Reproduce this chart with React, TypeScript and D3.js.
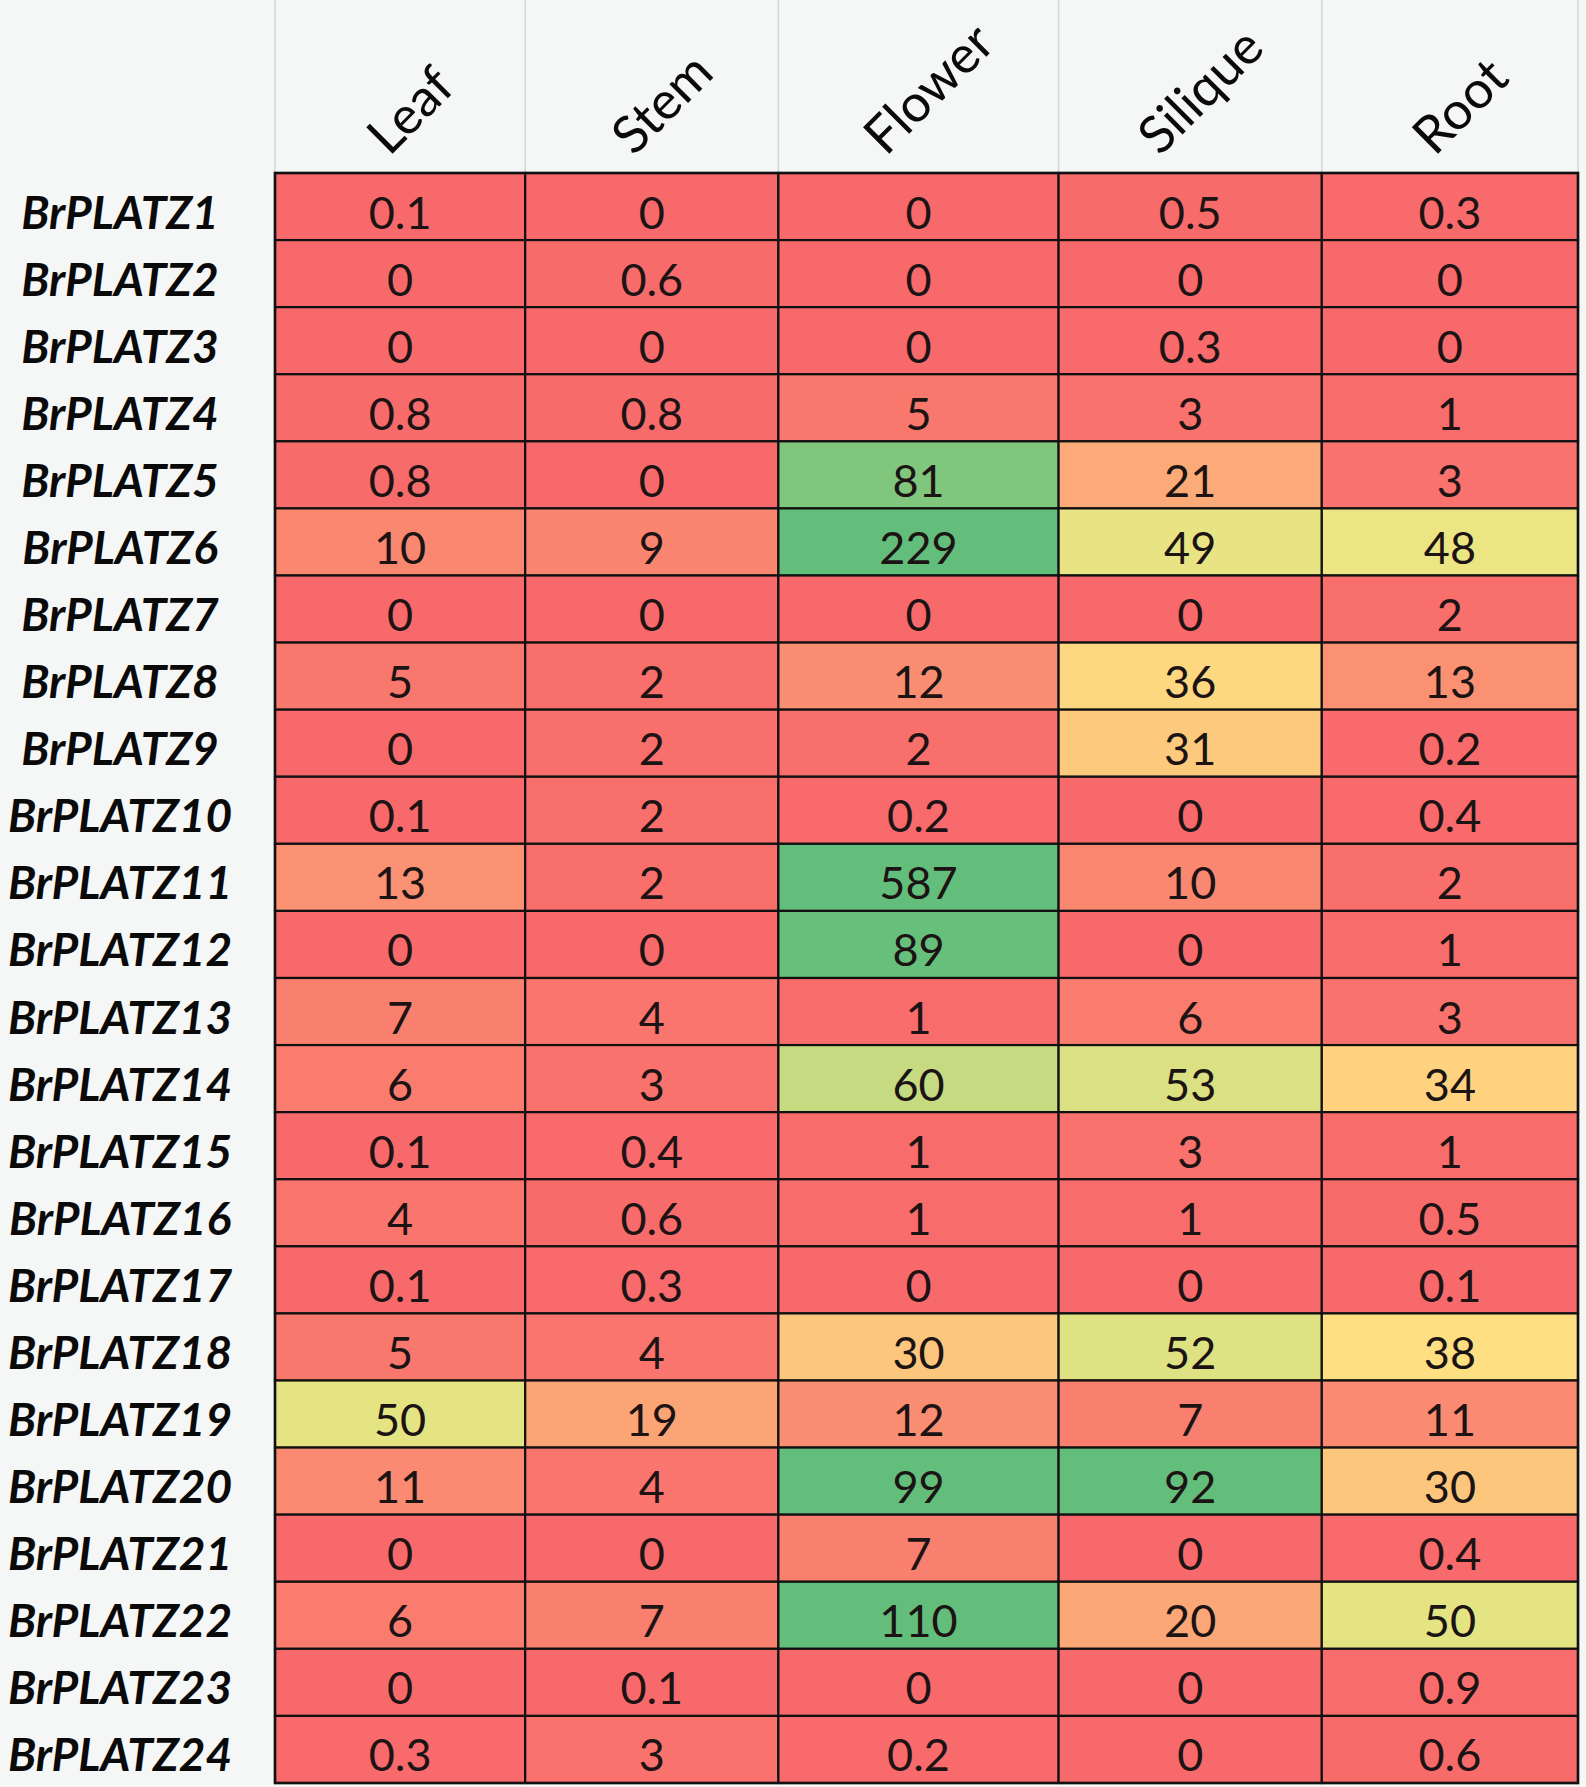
import React, { useEffect, useRef } from 'react';
import * as d3 from 'd3';

// tissues (columns) and genes (rows)
const tissues = ['Leaf', 'Stem', 'Flower', 'Silique', 'Root'];
const genes = Array.from({ length: 24 }, (_, i) => `BrPLATZ${i + 1}`);

// expression values, one array per tissue, in gene order
const leaf = [0.1, 0, 0, 0.8, 0.8, 10, 0, 5, 0, 0.1, 13, 0, 7, 6, 0.1, 4, 0.1, 5, 50, 11, 0, 6, 0, 0.3];
const stem = [0, 0.6, 0, 0.8, 0, 9, 0, 2, 2, 2, 2, 0, 4, 3, 0.4, 0.6, 0.3, 4, 19, 4, 0, 7, 0.1, 3];
const flower = [0, 0, 0, 5, 81, 229, 0, 12, 2, 0.2, 587, 89, 1, 60, 1, 1, 0, 30, 12, 99, 7, 110, 0, 0.2];
const silique = [0.5, 0, 0.3, 3, 21, 49, 0, 36, 31, 0, 10, 0, 6, 53, 3, 1, 0, 52, 7, 92, 0, 20, 0, 0];
const root = [0.3, 0, 0, 1, 3, 48, 2, 13, 0.2, 0.4, 2, 1, 3, 34, 1, 0.5, 0.1, 38, 11, 30, 0.4, 50, 0.9, 0.6];

const series = [leaf, stem, flower, silique, root];

// layout
const W = 1586;
const H = 1787;
const tableLeft = 275;
const tableRight = 1578;
const tableTop = 173;
const tableBottom = 1783;
const colWeights = [250, 253, 280, 263, 256]; // relative column widths
const labelX = 120;

export default function App() {
  const ref = useRef<SVGSVGElement>(null);

  useEffect(() => {
    document.body.style.margin = '0';
    const svg = d3.select(ref.current);
    svg.selectAll('*').remove();

    // x: cumulative widths mapped to table span
    const cum = [0];
    colWeights.forEach((w) => cum.push(cum[cum.length - 1] + w));
    const xs = d3.scaleLinear().domain([0, cum[cum.length - 1]]).range([tableLeft, tableRight]);
    const colX = (j: number) => xs(cum[j]);
    const colW = (j: number) => xs(cum[j + 1]) - xs(cum[j]);

    const y = d3.scaleBand<string>().domain(genes).range([tableTop, tableBottom]).padding(0);

    const color = d3
      .scaleLinear<string>()
      .domain([0, 42, 90])
      .range(['#F8696B', '#FFEB84', '#63BE7B'])
      .clamp(true);

    svg.append('rect').attr('width', W).attr('height', H).attr('fill', '#F5F6F6');

    // header separators
    svg
      .selectAll('.hsep')
      .data(d3.range(tissues.length + 1))
      .enter()
      .append('line')
      .attr('x1', (j) => colX(j))
      .attr('x2', (j) => colX(j))
      .attr('y1', 0)
      .attr('y2', tableTop)
      .attr('stroke', '#D4D6D6')
      .attr('stroke-width', 1.5);

    // cells
    const cells = tissues.flatMap((t, j) =>
      genes.map((g, i) => ({ t, j, g, v: series[j][i] }))
    );

    svg
      .selectAll('.cell')
      .data(cells)
      .enter()
      .append('rect')
      .attr('class', 'cell')
      .attr('x', (d) => colX(d.j))
      .attr('y', (d) => y(d.g)!)
      .attr('width', (d) => colW(d.j))
      .attr('height', y.bandwidth())
      .attr('fill', (d) => color(d.v))
      .attr('stroke', '#111')
      .attr('stroke-width', 2.2);

    svg
      .selectAll('.val')
      .data(cells)
      .enter()
      .append('text')
      .attr('x', (d) => colX(d.j) + colW(d.j) / 2)
      .attr('y', (d) => y(d.g)! + y.bandwidth() / 2 + 22)
      .attr('text-anchor', 'middle')
      .attr('font-family', 'Lato, "Open Sans", sans-serif')
      .attr('font-size', 45)
      .attr('fill', '#1c1414')
      .text((d) => String(d.v));

    // outer border
    svg
      .append('rect')
      .attr('x', tableLeft)
      .attr('y', tableTop)
      .attr('width', tableRight - tableLeft)
      .attr('height', tableBottom - tableTop)
      .attr('fill', 'none')
      .attr('stroke', '#111')
      .attr('stroke-width', 2.5);

    // row labels
    svg
      .selectAll('.rowlab')
      .data(genes)
      .enter()
      .append('text')
      .attr('x', labelX)
      .attr('y', (g) => y(g)! + y.bandwidth() / 2 + 22)
      .attr('text-anchor', 'middle')
      .attr('font-family', 'Lato, "Open Sans", sans-serif')
      .attr('font-weight', 'bold')
      .attr('font-style', 'italic')
      .attr('font-size', 46)
      .attr('fill', '#0a0a0a')
      .text((g) => g);

    // rotated column headers
    const baseY = 157;
    tissues.forEach((t, j) => {
      const cx = colX(j) + colW(j) / 2;
      const txt = svg
        .append('text')
        .attr('font-family', 'Lato, "Open Sans", sans-serif')
        .attr('font-size', 52)
        .attr('fill', '#0a0a0a')
        .text(t);
      const len = (txt.node() as SVGTextElement).getComputedTextLength();
      const x0 = cx - len / (2 * Math.SQRT2) + 23;
      txt.attr('transform', `translate(${x0},${baseY}) rotate(-45)`);
    });
  }, []);

  return <svg ref={ref} width={W} height={H} style={{ display: 'block' }} />;
}
